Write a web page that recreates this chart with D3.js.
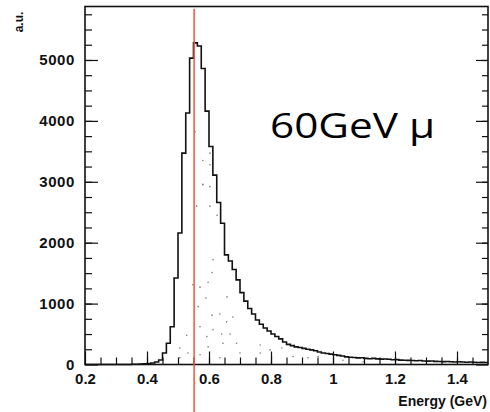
<!DOCTYPE html>
<html>
<head>
<meta charset="utf-8">
<script src="https://cdn.jsdelivr.net/npm/d3@7"></script>
<style>
  body { margin: 0; background: #fff; }
  .axis text { font-family: "Liberation Sans", Arial, sans-serif; font-weight: bold; font-size: 15px; fill: #111; }
  .axis line { stroke: #111; stroke-width: 1.2; }
  .axis path { display: none; }
</style>
</head>
<body>
<svg id="chart" width="490" height="412"></svg>
<script>
// histogram: bins of 0.0125 GeV starting at 0.2 GeV
const binStart = 0.2;
const binWidth = 0.0125;
const counts = [
  0, 0, 0, 0, 0, 0, 0, 0, 0, 0, 0, 0, 5, 5, 8, 10, 15, 25, 40, 75,
  190, 350, 620, 1420, 2160, 3470, 4130, 5030, 5280, 5230, 4860, 4160, 3580, 3110, 2660, 2320, 1800, 1700, 1560, 1390,
  1180, 1040, 920, 830, 730, 660, 600, 550, 500, 460, 420, 370, 330, 310, 290, 280, 265, 250, 240, 225,
  205, 190, 180, 170, 160, 150, 140, 125, 118, 115, 108, 112, 100, 95, 100, 92, 88, 90, 85, 78,
  80, 72, 70, 68, 65, 62, 66, 58, 55, 57, 52, 50, 48, 50, 45, 42, 44, 40, 38, 40,
  36, 34, 35, 33
];

// scattered points under the histogram
const dotE = [0.580, 0.603, 0.603, 0.560, 0.626, 0.613, 0.610, 0.597, 0.571, 0.548, 0.590, 0.658, 0.565, 0.610,
  0.635, 0.677, 0.657, 0.571, 0.613, 0.641, 0.668, 0.528, 0.593, 0.645, 0.689, 0.506, 0.597, 0.532, 0.700,
  0.571, 0.765, 0.797, 0.635, 0.506, 0.765, 0.802, 0.835, 0.871, 0.919, 0.952, 1.032, 1.097,
  0.555, 0.603, 0.580, 0.603, 0.580];
const dotV = [2950, 2920, 2600, 2600, 2450, 1720, 1510, 1350, 1270, 1310, 1090, 1110, 950, 810,
  830, 780, 700, 620, 570, 500, 500, 480, 460, 350, 350, 270, 290, 190, 190,
  160, 190, 240, 110, 110, 320, 130, 270, 130, 110, 130, 70, 45,
  3820, 3470, 3350, 3280, 2960];

const xMajor = [0.2, 0.4, 0.6, 0.8, 1, 1.2, 1.4];
const xMinor = d3.range(0.25, 1.5, 0.05);
const yMajor = [0, 1000, 2000, 3000, 4000, 5000];
const yMinor = d3.range(250, 5880, 250);

const markerE = 0.552;
const markerTop = 5840;

const margin = {top: 6.5, left: 85, right: 2, bottom: 47.5};
const W = 490, H = 412;

const x = d3.scaleLinear().domain([0.2, 1.5]).range([margin.left, W - margin.right]);
const y = d3.scaleLinear().domain([0, 5878]).range([H - margin.bottom, margin.top]);

const svg = d3.select('#chart');

// scattered dots
svg.append('g')
  .selectAll('circle')
  .data(dotE)
  .join('circle')
  .attr('cx', (d) => x(d))
  .attr('cy', (d, i) => y(dotV[i]))
  .attr('r', 0.8)
  .attr('fill', '#777');

// histogram outline
const steps = counts.map((c, i) => [binStart + i * binWidth, c]);
steps.push([binStart + counts.length * binWidth, counts[counts.length - 1]]);
const line = d3.line()
  .x((d) => x(d[0]))
  .y((d) => y(d[1]))
  .curve(d3.curveStepAfter);
svg.append('path')
  .datum(steps)
  .attr('d', line)
  .attr('fill', 'none')
  .attr('stroke', '#111')
  .attr('stroke-width', 1.6);

// axes, ticks pointing inward
const x0 = y(0);
svg.append('g').attr('class', 'axis')
  .attr('transform', `translate(0,${x0})`)
  .call(d3.axisBottom(x).tickValues(xMinor).tickSize(-7).tickFormat(''));
svg.append('g').attr('class', 'axis')
  .attr('transform', `translate(0,${x0})`)
  .call(d3.axisBottom(x).tickValues(xMajor).tickSize(-13).tickPadding(9).tickFormat(d3.format('~g')));

svg.append('g').attr('class', 'axis')
  .attr('transform', `translate(${x(0.2)},0)`)
  .call(d3.axisLeft(y).tickValues(yMinor).tickSize(-7).tickFormat(''));
svg.append('g').attr('class', 'axis y-labels')
  .attr('transform', `translate(${x(0.2)},0)`)
  .call(d3.axisLeft(y).tickValues(yMajor).tickSize(-13).tickPadding(10).tickFormat(d3.format('d')));
svg.selectAll('.y-labels text').attr('letter-spacing', 0.6);

svg.append('g').attr('class', 'axis')
  .attr('transform', `translate(${x(1.5)},0)`)
  .call(d3.axisRight(y).tickValues(yMinor).tickSize(-6).tickFormat(''));
svg.append('g').attr('class', 'axis')
  .attr('transform', `translate(${x(1.5)},0)`)
  .call(d3.axisRight(y).tickValues(yMajor).tickSize(-12).tickFormat(''));

// frame
svg.append('rect')
  .attr('x', x(0.2)).attr('y', y.range()[1])
  .attr('width', x(1.5) - x(0.2)).attr('height', y(0) - y.range()[1])
  .attr('fill', 'none').attr('stroke', '#111').attr('stroke-width', 1.6);

// red marker line
svg.append('line')
  .attr('x1', x(markerE)).attr('x2', x(markerE))
  .attr('y1', y(markerTop)).attr('y2', H)
  .attr('stroke', '#f0553c').attr('stroke-width', 1.5);

// labels
svg.append('text')
  .attr('x', W - 3).attr('y', 406)
  .attr('text-anchor', 'end')
  .style('font-family', '"Liberation Sans", Arial, sans-serif')
  .style('font-weight', 'bold').style('font-size', '14px')
  .attr('fill', '#111')
  .text('Energy (GeV)');

svg.append('text')
  .attr('transform', 'translate(23,22) rotate(-90)')
  .attr('text-anchor', 'middle')
  .style('font-family', '"Liberation Sans", Arial, sans-serif')
  .style('font-weight', 'bold').style('font-size', '12px')
  .attr('fill', '#111')
  .text('a.u.');

svg.append('text')
  .attr('x', 270).attr('y', 138)
  .attr('textLength', 165).attr('lengthAdjust', 'spacingAndGlyphs')
  .style('font-family', '"Open Sans", "Noto Sans", sans-serif')
  .style('font-size', '35px')
  .attr('fill', '#000')
  .text('60GeV μ');
</script>
</body>
</html>
